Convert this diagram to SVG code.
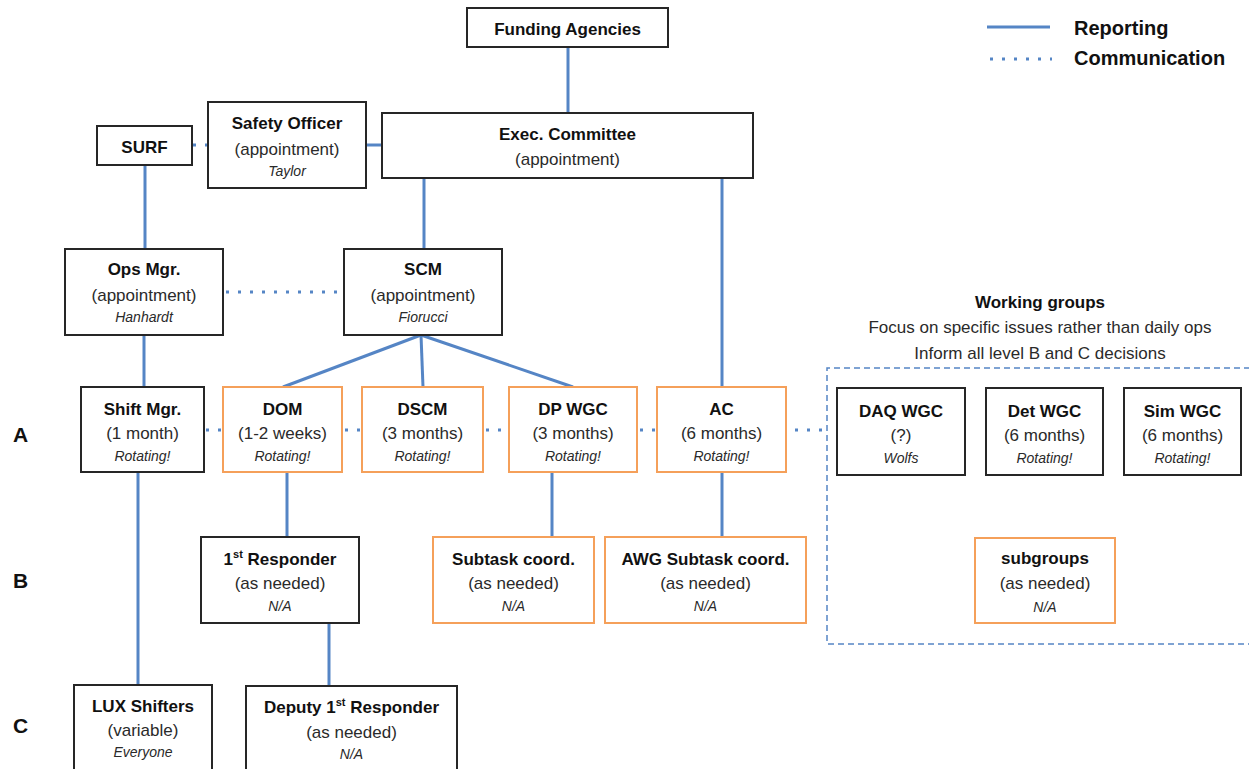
<svg xmlns="http://www.w3.org/2000/svg" width="1249" height="769" viewBox="0 0 1249 769">
<style>
.bx{fill:#fff;stroke:#262626;stroke-width:2}
.or{fill:#fff;stroke:#f5a05a;stroke-width:2}
.rep{stroke:#5585c5;stroke-width:3;fill:none}
.com{stroke:#5585c5;stroke-width:3;fill:none;stroke-dasharray:3 9}
.wg{stroke:#5585c5;stroke-width:1.5;fill:none;stroke-dasharray:6 4}
text{font-family:"Liberation Sans",Arial,sans-serif;text-anchor:middle;fill:#111}
.t{font-weight:bold;font-size:17px}
.p{font-size:17px;fill:#2a2a2a}
.i{font-style:italic;font-size:14px;fill:#2a2a2a}
.lvl{font-weight:bold;font-size:21px;text-anchor:start}
.lg{font-weight:bold;font-size:20px;text-anchor:start}
</style>
<rect width="1249" height="769" fill="#fff"/>
<g id="connectors">
<line class="rep" x1="568" y1="47" x2="568" y2="113"/>
<line class="com" x1="193" y1="145" x2="208" y2="145"/>
<line class="rep" x1="366" y1="145" x2="382" y2="145"/>
<line class="rep" x1="145" y1="165" x2="145" y2="249"/>
<line class="rep" x1="424" y1="178" x2="424" y2="249"/>
<line class="rep" x1="722" y1="178" x2="722" y2="387"/>
<line class="com" x1="226" y1="292" x2="344" y2="292"/>
<line class="rep" x1="144" y1="335" x2="144" y2="387"/>
<line class="rep" x1="421" y1="335" x2="283" y2="387"/>
<line class="rep" x1="421" y1="335" x2="423" y2="387"/>
<line class="rep" x1="421" y1="335" x2="573" y2="387"/>
<line class="com" x1="206" y1="430" x2="223" y2="430"/>
<line class="com" x1="345" y1="430" x2="362" y2="430"/>
<line class="com" x1="486" y1="430" x2="509" y2="430"/>
<line class="com" x1="640" y1="430" x2="657" y2="430"/>
<line class="com" x1="795" y1="430" x2="827" y2="430"/>
<line class="rep" x1="138" y1="472" x2="138" y2="685"/>
<line class="rep" x1="287" y1="472" x2="287" y2="537"/>
<line class="rep" x1="552" y1="472" x2="552" y2="537"/>
<line class="rep" x1="722" y1="472" x2="722" y2="537"/>
<line class="rep" x1="329" y1="623" x2="329" y2="686"/>
</g>
<g id="legend">
<line class="rep" x1="987" y1="27" x2="1050" y2="27"/>
<line class="com" x1="990" y1="59" x2="1052" y2="59"/>
<text class="lg" x="1074" y="35">Reporting</text>
<text class="lg" x="1074" y="65">Communication</text>
</g>
<g id="levels">
<text class="lvl" x="13" y="442">A</text>
<text class="lvl" x="13" y="588">B</text>
<text class="lvl" x="13" y="733">C</text>
</g>
<g id="working-groups">
<path class="wg" d="M1260 368 H827 V644 H1260"/>
<text class="t" x="1040" y="308">Working groups</text>
<text class="p" x="1040" y="333">Focus on specific issues rather than daily ops</text>
<text class="p" x="1040" y="359">Inform all level B and C decisions</text>
</g>
<g id="funding">
<rect class="bx" x="467" y="8" width="201" height="39"/>
<text class="t" x="567.5" y="35">Funding Agencies</text>
</g>
<g id="exec">
<rect class="bx" x="382" y="113" width="371" height="65"/>
<text class="t" x="567.5" y="140">Exec. Committee</text>
<text class="p" x="567.5" y="165">(appointment)</text>
</g>
<g id="safety">
<rect class="bx" x="208" y="102" width="158" height="86"/>
<text class="t" x="287" y="129">Safety Officer</text>
<text class="p" x="287" y="155">(appointment)</text>
<text class="i" x="287" y="176">Taylor</text>
</g>
<g id="surf">
<rect class="bx" x="97" y="126" width="95" height="39"/>
<text class="t" x="144.5" y="153">SURF</text>
</g>
<g id="ops">
<rect class="bx" x="65" y="249" width="158" height="86"/>
<text class="t" x="144" y="275">Ops Mgr.</text>
<text class="p" x="144" y="301">(appointment)</text>
<text class="i" x="144" y="322">Hanhardt</text>
</g>
<g id="scm">
<rect class="bx" x="344" y="249" width="158" height="86"/>
<text class="t" x="423" y="275">SCM</text>
<text class="p" x="423" y="301">(appointment)</text>
<text class="i" x="423" y="322">Fiorucci</text>
</g>
<g id="shift">
<rect class="bx" x="81" y="387" width="123" height="85"/>
<text class="t" x="142.5" y="415">Shift Mgr.</text>
<text class="p" x="142.5" y="439">(1 month)</text>
<text class="i" x="142.5" y="461">Rotating!</text>
</g>
<g id="dom">
<rect class="or" x="223" y="387" width="119" height="85"/>
<text class="t" x="282.5" y="415">DOM</text>
<text class="p" x="282.5" y="439">(1-2 weeks)</text>
<text class="i" x="282.5" y="461">Rotating!</text>
</g>
<g id="dscm">
<rect class="or" x="362" y="387" width="121" height="85"/>
<text class="t" x="422.5" y="415">DSCM</text>
<text class="p" x="422.5" y="439">(3 months)</text>
<text class="i" x="422.5" y="461">Rotating!</text>
</g>
<g id="dpwgc">
<rect class="or" x="509" y="387" width="128" height="85"/>
<text class="t" x="573" y="415">DP WGC</text>
<text class="p" x="573" y="439">(3 months)</text>
<text class="i" x="573" y="461">Rotating!</text>
</g>
<g id="ac">
<rect class="or" x="657" y="387" width="129" height="85"/>
<text class="t" x="721.5" y="415">AC</text>
<text class="p" x="721.5" y="439">(6 months)</text>
<text class="i" x="721.5" y="461">Rotating!</text>
</g>
<g id="daq">
<rect class="bx" x="837" y="388" width="128" height="87"/>
<text class="t" x="901" y="417">DAQ WGC</text>
<text class="p" x="901" y="441">(?)</text>
<text class="i" x="901" y="463">Wolfs</text>
</g>
<g id="det">
<rect class="bx" x="986" y="388" width="117" height="87"/>
<text class="t" x="1044.5" y="417">Det WGC</text>
<text class="p" x="1044.5" y="441">(6 months)</text>
<text class="i" x="1044.5" y="463">Rotating!</text>
</g>
<g id="sim">
<rect class="bx" x="1124" y="388" width="117" height="87"/>
<text class="t" x="1182.5" y="417">Sim WGC</text>
<text class="p" x="1182.5" y="441">(6 months)</text>
<text class="i" x="1182.5" y="463">Rotating!</text>
</g>
<g id="responder">
<rect class="bx" x="201" y="537" width="158" height="86"/>
<text class="t" x="280" y="565">1<tspan font-size="11" dy="-7">st</tspan><tspan dy="7"> Responder</tspan></text>
<text class="p" x="280" y="589">(as needed)</text>
<text class="i" x="280" y="611">N/A</text>
</g>
<g id="subtask">
<rect class="or" x="433" y="537" width="161" height="86"/>
<text class="t" x="513.5" y="565">Subtask coord.</text>
<text class="p" x="513.5" y="589">(as needed)</text>
<text class="i" x="513.5" y="611">N/A</text>
</g>
<g id="awg">
<rect class="or" x="605" y="537" width="201" height="86"/>
<text class="t" x="705.5" y="565">AWG Subtask coord.</text>
<text class="p" x="705.5" y="589">(as needed)</text>
<text class="i" x="705.5" y="611">N/A</text>
</g>
<g id="subgroups">
<rect class="or" x="975" y="538" width="140" height="85"/>
<text class="t" x="1045" y="564">subgroups</text>
<text class="p" x="1045" y="589">(as needed)</text>
<text class="i" x="1045" y="612">N/A</text>
</g>
<g id="lux">
<rect class="bx" x="74" y="685" width="138" height="100"/>
<text class="t" x="143" y="712">LUX Shifters</text>
<text class="p" x="143" y="736">(variable)</text>
<text class="i" x="143" y="757">Everyone</text>
</g>
<g id="deputy">
<rect class="bx" x="246" y="686" width="211" height="100"/>
<text class="t" x="351.5" y="713">Deputy 1<tspan font-size="11" dy="-7">st</tspan><tspan dy="7"> Responder</tspan></text>
<text class="p" x="351.5" y="738">(as needed)</text>
<text class="i" x="351.5" y="759">N/A</text>
</g>
</svg>
